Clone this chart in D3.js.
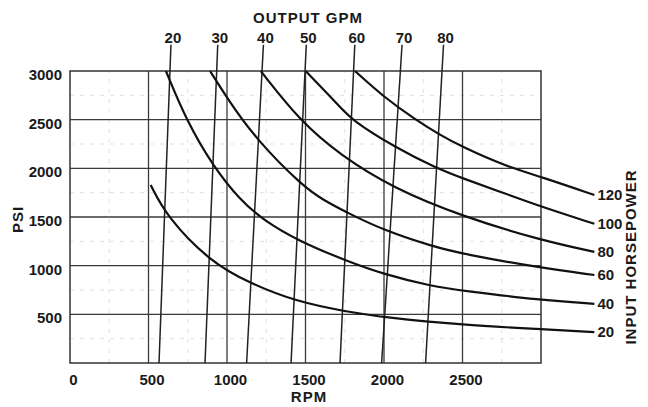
<!DOCTYPE html>
<html>
<head>
<meta charset="utf-8">
<script src="https://cdn.jsdelivr.net/npm/d3@7"></script>
<style>
  html, body { margin: 0; padding: 0; background: #fff; }
  svg { display: block; }
  text { font-family: "Liberation Sans", Arial, Helvetica, sans-serif; font-weight: bold; fill: #1a1a1a; }
</style>
</head>
<body>
<svg id="chart" width="648" height="407"></svg>
<script>
// ---- data ----
const rpmTicks = [0, 500, 1000, 1500, 2000, 2500];
const psiTicks = [500, 1000, 1500, 2000, 2500, 3000];
const minorTicks = [250, 750, 1250, 1750, 2250, 2750];

// Output GPM lines (nearly vertical): RPM at 0 psi and RPM at the top end of each line
const gpmLabels = [20, 30, 40, 50, 60, 70, 80];
const gpmRpmAtZeroPsi = [567, 860, 1125, 1408, 1720, 1985, 2265];
const gpmRpmAtTop = [643, 941, 1232, 1505, 1814, 2115, 2379];
const gpmTopPsi = 3270;

// Input horsepower curves: [rpm, psi] points
const hpLabels = [20, 40, 60, 80, 100, 120];
const hp20 = [[514,1829],[616,1503],[892,1041],[1146,819],[1444,630],[1763,527],[1996,470],[2505,390],[2994,348],[3340,318]];
const hp40 = [[611,3000],[743,2486],[913,2017],[1083,1675],[1231,1469],[1450,1258],[1773,1041],[1996,914],[2314,784],[2505,743],[2994,647],[3340,608]];
const hp60 = [[892,3000],[1008,2702],[1189,2291],[1486,1811],[1613,1675],[1773,1538],[1996,1366],[2314,1195],[2505,1120],[2994,978],[3340,904]];
const hp80 = [[1215,3000],[1465,2486],[1720,2137],[2059,1795],[2505,1503],[2994,1264],[3340,1142]];
const hp100 = [[1501,3000],[1720,2633],[1794,2497],[2070,2216],[2336,2000],[2501,1898],[2739,1760],[3000,1606],[3340,1430]];
const hp120 = [[1815,3000],[1996,2736],[2200,2500],[2357,2343],[2495,2222],[2782,2017],[3000,1914],[3340,1726]];
const hpCurves = [hp20, hp40, hp60, hp80, hp100, hp120];

// ---- drawing ----
const svg = d3.select("#chart");
const x = d3.scaleLinear().domain([0, 3000]).range([70, 541]);
const y = d3.scaleLinear().domain([0, 3000]).range([363, 71]);

// minor grid
const g = svg.append("g");
g.selectAll(".mx").data(minorTicks).enter().append("line")
  .attr("x1", d => x(d)).attr("x2", d => x(d)).attr("y1", y(0)).attr("y2", y(3000))
  .attr("stroke", "#e0e0e0").attr("stroke-width", 1).attr("stroke-dasharray", "4,6");
g.selectAll(".my").data(minorTicks).enter().append("line")
  .attr("y1", d => y(d)).attr("y2", d => y(d)).attr("x1", x(0)).attr("x2", x(3000))
  .attr("stroke", "#e0e0e0").attr("stroke-width", 1).attr("stroke-dasharray", "4,6");

// major grid
const majorX = [500, 1000, 1500, 2000, 2500];
const majorY = [500, 1000, 1500, 2000, 2500];
g.selectAll(".gx").data(majorX).enter().append("line")
  .attr("x1", d => x(d)).attr("x2", d => x(d)).attr("y1", y(0)).attr("y2", y(3000))
  .attr("stroke", "#3a3a3a").attr("stroke-width", 1.3);
g.selectAll(".gy").data(majorY).enter().append("line")
  .attr("y1", d => y(d)).attr("y2", d => y(d)).attr("x1", x(0)).attr("x2", x(3000))
  .attr("stroke", "#3a3a3a").attr("stroke-width", 1.3);

// frame
svg.append("rect")
  .attr("x", x(0)).attr("y", y(3000))
  .attr("width", x(3000) - x(0)).attr("height", y(0) - y(3000))
  .attr("fill", "none").attr("stroke", "#333").attr("stroke-width", 1.5);

// axes (labels only)
const fmt = d3.format("d");
const xAxis = d3.axisBottom(x).tickValues(rpmTicks).tickFormat(fmt).tickSize(0).tickPadding(0);
const xg = svg.append("g").attr("transform", `translate(3,${y(0)})`).call(xAxis);
xg.select(".domain").remove();
xg.selectAll("text").attr("y", 22).attr("dy", 0)
  .style("font-size", "15px").style("font-family", "'Liberation Sans', Arial, sans-serif")
  .style("font-weight", "bold").attr("fill", "#1a1a1a");

const yAxis = d3.axisLeft(y).tickValues(psiTicks).tickFormat(fmt).tickSize(0).tickPadding(0);
const yg = svg.append("g").attr("transform", `translate(62,0)`).call(yAxis);
yg.select(".domain").remove();
yg.selectAll("text").attr("x", 0).attr("dy", 8.5).attr("text-anchor", "end")
  .style("font-size", "15px").style("font-family", "'Liberation Sans', Arial, sans-serif")
  .style("font-weight", "bold").attr("fill", "#1a1a1a");

// GPM lines
const gpmData = gpmLabels.map((v, i) => ({ v, r0: gpmRpmAtZeroPsi[i], r1: gpmRpmAtTop[i] }));
svg.selectAll(".gpm").data(gpmData).enter().append("line")
  .attr("x1", d => x(d.r0)).attr("y1", y(0))
  .attr("x2", d => x(d.r1)).attr("y2", y(gpmTopPsi))
  .attr("stroke", "#222").attr("stroke-width", 1.5);
svg.selectAll(".gpmlab").data(gpmData).enter().append("text")
  .attr("x", d => x(d.r1) + 2).attr("y", y(gpmTopPsi) - 1.5)
  .attr("text-anchor", "middle").style("font-size", "15px")
  .text(d => d.v);

// HP curves
const line = d3.line().x(d => x(d[0])).y(d => y(d[1])).curve(d3.curveBasis);
svg.selectAll(".hp").data(hpCurves).enter().append("path")
  .attr("d", line).attr("fill", "none").attr("stroke", "#111").attr("stroke-width", 2.2);
svg.selectAll(".hplab").data(hpCurves).enter().append("text")
  .attr("x", d => x(d[d.length - 1][0]) + 3)
  .attr("y", d => y(d[d.length - 1][1]))
  .attr("dy", "0.36em").style("font-size", "15px")
  .text((d, i) => hpLabels[i]);

// titles
svg.append("text").attr("x", 308).attr("y", 22.5).attr("text-anchor", "middle")
  .style("font-size", "15px").style("letter-spacing", "1px").text("OUTPUT GPM");
svg.append("text").attr("x", 309).attr("y", 401.5).attr("text-anchor", "middle")
  .style("font-size", "15px").style("letter-spacing", "1px").text("RPM");
svg.append("text").attr("transform", "translate(22.5,219.5) rotate(-90)").attr("text-anchor", "middle")
  .style("font-size", "15px").style("letter-spacing", "1px").text("PSI");
svg.append("text").attr("transform", "translate(636,257) rotate(-90)").attr("text-anchor", "middle")
  .style("font-size", "15px").style("letter-spacing", "1px").text("INPUT HORSEPOWER");
</script>
</body>
</html>
